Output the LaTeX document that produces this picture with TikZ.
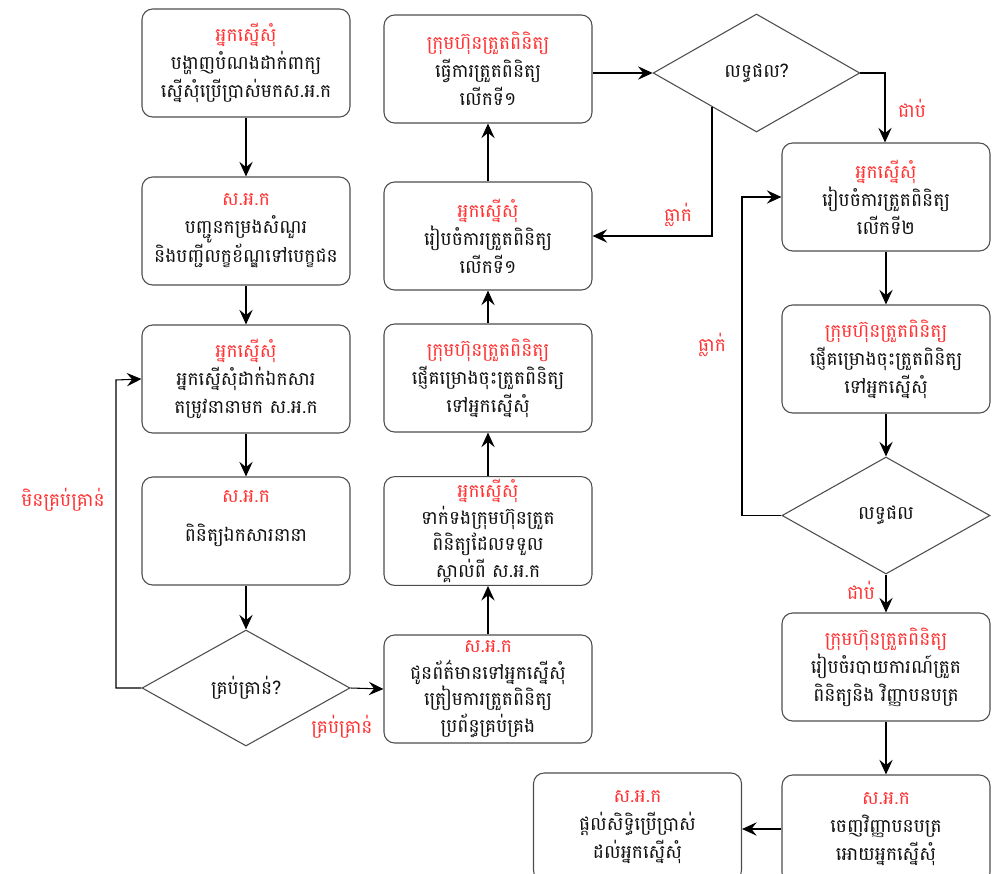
\documentclass[tikz,border=0pt]{standalone}
\usepackage{fontspec}
\newfontfamily\km[Script=Khmer]{Battambang}
\usetikzlibrary{arrows.meta,shapes.geometric}
\definecolor{kred}{HTML}{FF3333}
\definecolor{kline}{HTML}{4D4D4D}
\definecolor{ktext}{HTML}{111111}
\begin{document}
\begin{tikzpicture}[x=0.75pt,y=-0.75pt,
  kfont/.style={font=\km\fontsize{14}{21}\selectfont},
  box/.style={kfont, draw=kline, line width=0.8pt, rounded corners=8pt,
    minimum width=156pt, minimum height=81pt, align=center, text=ktext, inner sep=2pt},
  dec/.style={kfont, draw=kline, line width=0.8pt, diamond, inner sep=0pt,
    align=center, text=ktext},
  lbl/.style={kfont, text=kred, inner sep=0pt},
  arr/.style={draw=black, line width=0.8pt, -{Stealth[length=11pt,width=10pt,inset=4pt]}},
  ln/.style={draw=black, line width=0.8pt}]
\clip (0,0) rectangle (1007,874);
\fill[white] (0,0) rectangle (1007,874);
% left column
\node[box] (b1) at (246,63) {{\color{kred}អ្នកស្នើសុំ}\\បង្ហាញបំណងដាក់ពាក្យ\\ស្នើសុំប្រើប្រាស់មកស.អ.ក};
\node[box] (b2) at (246,231) {{\color{kred}ស.អ.ក}\\បញ្ជូនកម្រងសំណួរ\\និងបញ្ជីលក្ខខ័ណ្ឌទៅបេក្ខជន};
\node[box] (b3) at (246,379) {{\color{kred}អ្នកស្នើសុំ}\\អ្នកស្នើសុំដាក់ឯកសារ\\តម្រូវនានាមក ស.អ.ក};
\node[box] (b4) at (246,531) {};
\node[kfont, text=kred, inner sep=0pt] (b4t) at (246,497) {ស.អ.ក};
\node[kfont, text=ktext, inner sep=0pt] (b4b) at (246,535) {ពិនិត្យឯកសារនានា};
\node[dec, minimum width=156pt, minimum height=87pt] (d1) at (246,688) {គ្រប់គ្រាន់?};
% middle column
\node[box, font=\km\fontsize{14}{20}\selectfont] (b5) at (488,689) {{\color{kred}ស.អ.ក}\\ជូនព័ត៌មានទៅអ្នកស្នើសុំ\\ត្រៀមការត្រួតពិនិត្យ\\ប្រព័ន្ធគ្រប់គ្រង};
\node[box, font=\km\fontsize{14}{20}\selectfont] (b6) at (488,531) {{\color{kred}អ្នកស្នើសុំ}\\ទាក់ទងក្រុមហ៊ុនត្រួត\\ពិនិត្យដែលទទួល\\ស្គាល់ពី ស.អ.ក};
\node[box] (b7) at (488,378) {{\color{kred}ក្រុមហ៊ុនត្រួតពិនិត្យ}\\ផ្ញើគម្រោងចុះត្រួតពិនិត្យ\\ទៅអ្នកស្នើសុំ};
\node[box] (b8) at (488,236) {{\color{kred}អ្នកស្នើសុំ}\\រៀបចំការត្រួតពិនិត្យ\\លើកទី១};
\node[box] (b9) at (488,69) {{\color{kred}ក្រុមហ៊ុនត្រួតពិនិត្យ}\\ធ្វើការត្រួតពិនិត្យ\\លើកទី១};
\node[dec, minimum width=155pt, minimum height=88.5pt] (d2) at (756.5,73) {លទ្ធផល?};
% right column
\node[box] (b10) at (886,197) {{\color{kred}អ្នកស្នើសុំ}\\រៀបចំការត្រួតពិនិត្យ\\លើកទី២};
\node[box] (b11) at (886,359) {{\color{kred}ក្រុមហ៊ុនត្រួតពិនិត្យ}\\ផ្ញើគម្រោងចុះត្រួតពិនិត្យ\\ទៅអ្នកស្នើសុំ};
\node[dec, minimum width=156pt, minimum height=87.75pt] (d3) at (886,515.5) {លទ្ធផល};
\node[box] (b12) at (886,667) {{\color{kred}ក្រុមហ៊ុនត្រួតពិនិត្យ}\\រៀបចំរបាយការណ៍ត្រួត\\ពិនិត្យនិង វិញ្ញាបនបត្រ};
\node[box] (b13) at (886,829) {{\color{kred}ស.អ.ក}\\ចេញវិញ្ញាបនបត្រ\\អោយអ្នកស្នើសុំ};
\node[box] (b14) at (637.5,827) {{\color{kred}ស.អ.ក}\\ផ្តល់សិទ្ធិប្រើប្រាស់\\ដល់អ្នកស្នើសុំ};
% connectors
\draw[arr] (b1) -- (b2);
\draw[arr] (b2) -- (b3);
\draw[arr] (b3) -- (b4);
\draw[arr] (b4) -- (d1);
\coordinate (c1) at (116,688);
\coordinate (c2) at (116,380);
\draw[arr] (d1.west) -- (c1) -- (c2) -- (b3.west);
\draw[arr] (d1.east) -- (b5.west);
\draw[arr] (b5) -- (b6);
\draw[arr] (b6) -- (b7);
\draw[arr] (b7) -- (b8);
\draw[arr] (b8) -- (b9);
\draw[arr] (d2.west -| b9.east) -- (d2.west);
\coordinate (c3) at (885,73);
\draw[arr] (d2.east) -- (c3) -- (b10.north -| c3);
\coordinate (c4) at (712,106.6);
\coordinate (c5) at (712,236);
\draw[arr] (c4) -- (c5) -- (b8.east);
\draw[arr] (b10) -- (b11);
\draw[arr] (b11) -- (d3);
\coordinate (c6) at (742,515.5);
\coordinate (c7) at (742,197);
\draw[arr] (d3.west) -- (c6) -- (c7) -- (b10.west);
\draw[arr] (d3.south) -- (b12.north);
\draw[arr] (b12) -- (b13);
\draw[arr] (b13.west) -- (b13.west -| b14.east);
% labels
\node[lbl] (l1) at (63,500) {មិនគ្រប់គ្រាន់};
\node[lbl] (l2) at (342,727) {គ្រប់គ្រាន់};
\node[lbl] (l3) at (678,215) {ធ្លាក់};
\node[lbl] (l4) at (912,108) {ជាប់};
\node[lbl] (l5) at (712,345) {ធ្លាក់};
\node[lbl] (l6) at (861,590) {ជាប់};
\end{tikzpicture}
\end{document}
